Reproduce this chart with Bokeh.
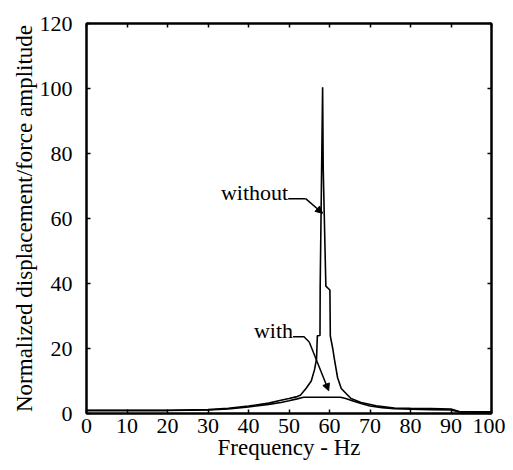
from bokeh.plotting import figure
from bokeh.models import Range1d, LinearAxis, Arrow, NormalHead, Label, FixedTicker
from bokeh.embed import file_html
from bokeh.resources import INLINE

# ---- data ----
freq_without = [0, 10, 20, 30, 35, 40, 45, 48, 50, 52, 52.8, 54.2, 55.5, 56.3, 56.8, 57.0,
                57.65, 57.7, 58.3, 58.45, 59.1, 60.1, 60.2, 60.8, 61.2, 62.0, 62.9, 65.3,
                67.8, 71.5, 76, 80, 85, 90, 92, 100]
amp_without = [1.0, 1.0, 1.0, 1.2, 1.6, 2.3, 3.2, 4.1, 4.6, 5.2, 5.6, 7.7, 10, 13.5, 16.8, 23.9,
               24, 39.2, 100.4, 75.3, 39.2, 38, 23.9, 20, 16.8, 11, 7.7, 4.6,
               3.4, 2.4, 1.7, 1.6, 1.5, 1.4, 0.6, 0.5]

freq_with = [0, 10, 20, 30, 35, 40, 45, 48, 50, 52, 53.6, 58, 62.7, 64, 66, 68, 70, 73,
             76, 80, 85, 90, 92, 100]
amp_with = [0.9, 0.9, 0.9, 1.1, 1.4, 2.0, 2.8, 3.4, 3.9, 4.5, 5.0, 5.0, 5.0, 4.6, 3.8,
            3.0, 2.3, 1.8, 1.5, 1.3, 1.2, 1.1, 0.5, 0.4]

x_ticks = [0, 10, 20, 30, 40, 50, 60, 70, 80, 90, 100]
y_ticks = [0, 20, 40, 60, 80, 100, 120]

FONT = "Liberation Serif"

p = figure(width=505, height=462, output_backend="svg", toolbar_location=None,
           x_range=Range1d(0, 100), y_range=Range1d(0, 120),
           min_border_left=86, min_border_right=14, min_border_top=23, min_border_bottom=47,
           background_fill_color="white", border_fill_color="white")
p.grid.visible = False
p.outline_line_color = "black"
p.outline_line_width = 2

for ax in (p.xaxis[0], p.yaxis[0]):
    ax.axis_line_width = 2
    ax.axis_line_color = "black"
    ax.major_tick_in = 4
    ax.major_tick_out = 0
    ax.minor_tick_line_color = None
    ax.major_tick_line_color = "black"
    ax.major_tick_line_width = 1.5
    ax.major_label_text_font = FONT
    ax.major_label_text_font_size = "22px"
    ax.major_label_text_color = "black"
    ax.axis_label_text_font = FONT
    ax.axis_label_text_font_size = "23px"
    ax.axis_label_text_font_style = "normal"
    ax.axis_label_text_color = "black"

p.xaxis[0].ticker = FixedTicker(ticks=x_ticks)
p.yaxis[0].ticker = FixedTicker(ticks=y_ticks)
p.xaxis[0].axis_label = "Frequency - Hz"
p.yaxis[0].axis_label = "Normalized displacement/force amplitude"
p.xaxis[0].major_label_standoff = 5
p.xaxis[0].axis_label_standoff = -1
p.yaxis[0].major_label_standoff = 14
p.yaxis[0].axis_label_standoff = 0

# top and right axes: ticks only, inside, no labels
top = LinearAxis(ticker=FixedTicker(ticks=x_ticks),
                 major_label_overrides={t: "" for t in x_ticks},
                 major_tick_in=4, major_tick_out=0, minor_tick_line_color=None,
                 major_tick_line_width=1.5, axis_line_width=2, major_label_standoff=0)
right = LinearAxis(ticker=FixedTicker(ticks=y_ticks),
                   major_label_overrides={t: "" for t in y_ticks},
                   major_tick_in=4, major_tick_out=0, minor_tick_line_color=None,
                   major_tick_line_width=1.5, axis_line_width=2, major_label_standoff=0)
p.add_layout(top, "above")
p.add_layout(right, "right")

# curves
p.line(freq_with, amp_with, line_color="black", line_width=1.6)
p.line(freq_without, amp_without, line_color="black", line_width=1.6)

# leader lines with arrowheads
p.line([49.8, 54.1], [66.1, 66.1], line_color="black", line_width=1.5)
p.add_layout(Arrow(end=NormalHead(size=7, fill_color="black", line_color="black"),
                   x_start=54.1, y_start=66.1, x_end=58.3, y_end=61.6,
                   line_color="black", line_width=1.5))
p.line([51.0, 53.7, 55.0], [23.6, 23.6, 22.0], line_color="black", line_width=1.5)
p.add_layout(Arrow(end=NormalHead(size=7, fill_color="black", line_color="black"),
                   x_start=55.0, y_start=22.0, x_end=59.8, y_end=7.0,
                   line_color="black", line_width=1.5))

p.add_layout(Label(x=49.8, y=68, text="without", text_font=FONT, text_font_size="22px",
                   text_align="right", text_baseline="middle", text_color="black"))
p.add_layout(Label(x=51.0, y=25.4, text="with", text_font=FONT, text_font_size="22px",
                   text_align="right", text_baseline="middle", text_color="black"))

open("out.html", "w").write(file_html(p, INLINE))
